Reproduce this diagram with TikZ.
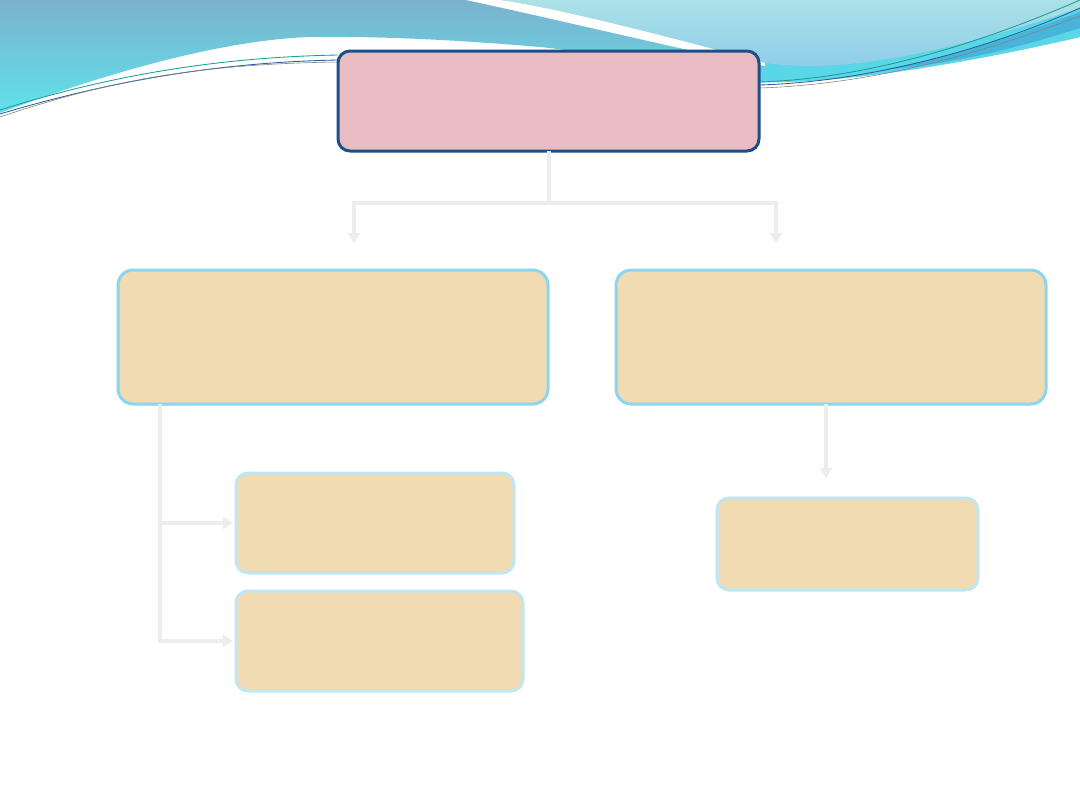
\documentclass[tikz,border=0pt]{standalone}
\usepackage{xcolor}
\usetikzlibrary{calc,arrows.meta,positioning}

\definecolor{ribbonTop}{HTML}{7BB2CD}
\definecolor{ribbonLow}{HTML}{60E2EC}
\definecolor{sweepTop}{HTML}{ABE1E7}
\definecolor{sweepLow}{HTML}{8CCBEA}
\definecolor{cyanBand}{HTML}{5AD7E6}
\definecolor{deepBand}{HTML}{47B4DA}
\definecolor{thinTeal}{HTML}{1E9C8E}
\definecolor{thinBlue}{HTML}{2B5D9C}
\definecolor{topEdge}{HTML}{1B4F8A}
\definecolor{topFill}{HTML}{E9BCC3}
\definecolor{midEdge}{HTML}{8DD5EE}
\definecolor{lowEdge}{HTML}{BFE7F3}
\definecolor{tanFill}{HTML}{F1DBB3}
\definecolor{linkGray}{HTML}{EDEDED}

\begin{document}
\begin{tikzpicture}[x=0.025cm,y=-0.025cm,
    topbox/.style={draw=topEdge, fill=topFill, line width=0.075cm,
      rounded corners=0.3cm, inner sep=0pt, outer sep=0pt},
    midbox/.style={draw=midEdge, fill=tanFill, line width=0.075cm,
      rounded corners=0.38cm, inner sep=0pt, outer sep=0pt},
    lowbox/.style={draw=lowEdge, fill=tanFill, line width=0.075cm,
      rounded corners=0.3cm, inner sep=0pt, outer sep=0pt},
    link/.style={draw=linkGray, line width=0.1cm},
    arrowlink/.style={link, -{Triangle[length=0.25cm,width=0.3cm]}}
  ]
        \useasboundingbox (0,0) rectangle (1080,810);
        \fill[white] (0,0) rectangle (1080,810);
        % header ribbon
        \shade[top color=ribbonTop, bottom color=ribbonLow]
          (0,0) -- (1080,0) -- (1080,37)
          .. controls (980,60) and (850,84) .. (760,82)
          .. controls (700,78) and (620,55) .. (540,47)
          .. controls (480,42) and (400,36) .. (310,37)
          .. controls (220,40) and (100,75) .. (0,113) -- cycle;
        \fill[cyanBand] (765,63) .. controls (830,72) and (920,62) .. (1080,8)
          -- (1080,37) .. controls (980,60) and (850,84) .. (760,82) -- cycle;
        \shade[top color=sweepTop, bottom color=sweepLow]
          (500,0) .. controls (560,8) and (700,45) .. (765,63)
          .. controls (830,72) and (920,62) .. (1080,8) -- (1080,0) -- cycle;
        \fill[deepBand] (880,70) .. controls (960,56) and (1030,30) .. (1080,12)
          -- (1080,28) .. controls (1030,44) and (960,64) .. (880,70) -- cycle;
        \fill[white] (466,0) -- (500,0) .. controls (560,8) and (700,45) .. (765,63)
          -- (765,66) .. controls (700,54) and (560,20) .. (466,0) -- cycle;
        \draw[thinTeal, line width=0.6pt] (0,110) .. controls (120,72) and (230,57) .. (338,55);
        \draw[thinBlue, line width=0.6pt] (0,114) .. controls (120,78) and (230,62) .. (338,60);
        \draw[gray, line width=0.4pt] (0,117) .. controls (110,80) and (200,64) .. (338,62);
        \draw[thinTeal, line width=0.6pt] (760,82) .. controls (880,78) and (1000,35) .. (1080,0);
        \draw[thinBlue, line width=0.6pt] (760,85) .. controls (880,81) and (1000,44) .. (1080,8);
        \draw[gray, line width=0.4pt] (760,88) .. controls (880,84) and (990,50) .. (1080,16);
        % boxes
        \node[topbox, minimum width=421*0.025cm, minimum height=100*0.025cm] (root) at (548.5,101) {};
        \node[midbox, minimum width=430*0.025cm, minimum height=134*0.025cm] (left) at (333,337) {};
        \node[midbox, minimum width=430*0.025cm, minimum height=134*0.025cm] (right) at (831,337) {};
        \node[lowbox, minimum width=278*0.025cm, minimum height=100*0.025cm] (leftA) at (375,523) {};
        \node[lowbox, minimum width=287*0.025cm, minimum height=100*0.025cm] (leftB) at (379.5,641) {};
        \node[lowbox, minimum width=261*0.025cm, minimum height=92*0.025cm] (rightA) at (847.5,544) {};
        % connectors
        \coordinate (split) at (548.5,203);
        \coordinate (tipL) at (354,243);
        \coordinate (tipR) at (776,243);
        \coordinate (spine) at (160,404);
        \coordinate (tipD) at (826,478);
        \draw[link] (root.south) -- (split);
        \draw[arrowlink] (split) -| (tipL);
        \draw[arrowlink] (split) -| (tipR);
        \draw[arrowlink] (spine) |- ($(leftA.west)+(-3,0)$);
        \draw[arrowlink] (spine) |- ($(leftB.west)+(-3,0)$);
        \draw[arrowlink] (right.south -| tipD) -- (tipD);
    \end{tikzpicture}
\end{document}
